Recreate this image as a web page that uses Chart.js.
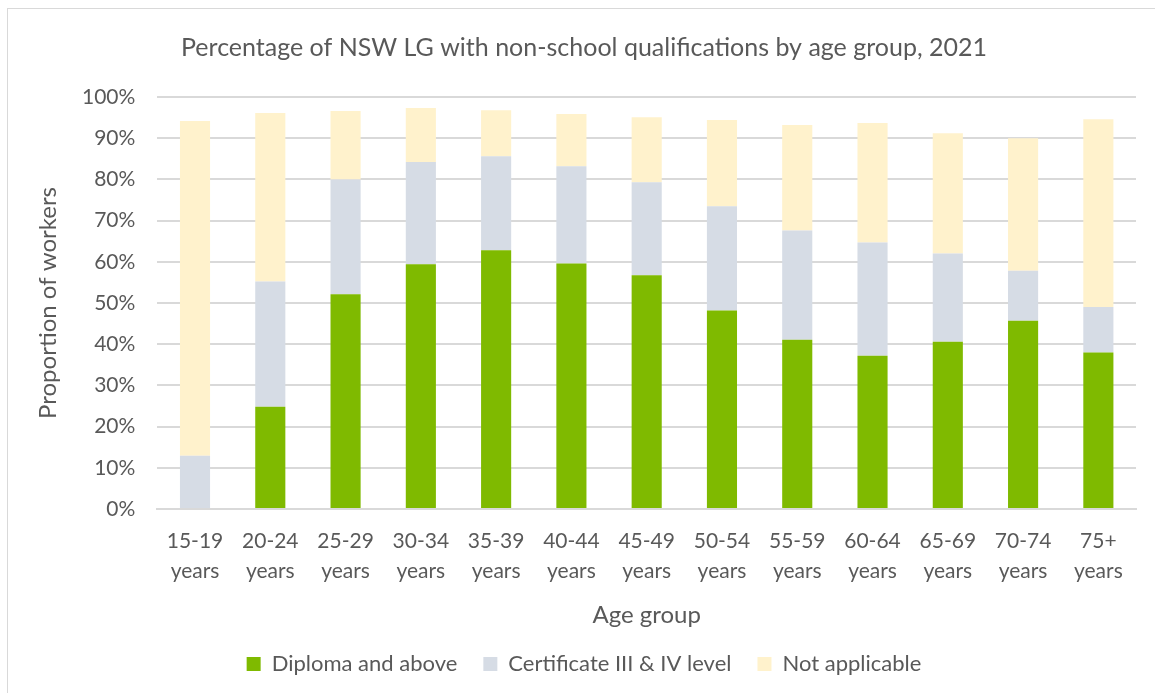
<!DOCTYPE html>
<html>
<head>
<meta charset="utf-8">
<script src="https://cdn.jsdelivr.net/npm/chart.js@4/dist/chart.umd.min.js"></script>
<style>
  html, body { margin: 0; padding: 0; background: #fff; }
  #frame { position: absolute; left: 7px; top: 8px; width: 1160px; height: 700px;
           border-left: 1px solid #d9d9d9; border-top: 1px solid #d9d9d9; }
  #wrap { position: absolute; left: 0; top: 0; width: 1155px; height: 693px; }
</style>
</head>
<body>
<div id="frame"></div>
<div id="wrap"><canvas id="chart" width="1155" height="693"></canvas></div>
<script>
  // Age groups (two-line tick labels)
  const ageGroups = ['15-19','20-24','25-29','30-34','35-39','40-44','45-49','50-54','55-59','60-64','65-69','70-74','75+'];
  // Segment heights, % of workers
  const diploma = [0, 24.8, 52.1, 59.4, 62.8, 59.6, 56.7, 48.2, 41.1, 37.2, 40.6, 45.7, 38.0];
  const certificate = [12.9, 30.4, 27.9, 24.8, 22.8, 23.6, 22.6, 25.3, 26.5, 27.5, 21.4, 12.1, 11.0];
  const notApplicable = [81.3, 40.9, 16.6, 13.1, 11.2, 12.7, 15.8, 20.9, 25.6, 29.0, 29.2, 32.2, 45.6];
  const yTicks = [0, 10, 20, 30, 40, 50, 60, 70, 80, 90, 100];

  const FONT = 'Lato, "Open Sans", sans-serif';
  const TEXT = '#595959';

  new Chart(document.getElementById('chart').getContext('2d'), {
    type: 'bar',
    data: {
      labels: ageGroups.map(a => [a, 'years']),
      datasets: [
        { label: 'Diploma and above', data: diploma, backgroundColor: '#7fba00' },
        { label: 'Certificate III & IV level', data: certificate, backgroundColor: '#d6dce5' },
        { label: 'Not applicable', data: notApplicable, backgroundColor: '#fff2cc' }
      ]
    },
    options: {
      responsive: false,
      animation: false,
      layout: { padding: { left: 32, right: 19, top: 0, bottom: 8 } },
      datasets: { bar: { categoryPercentage: 0.4, barPercentage: 1 } },
      plugins: {
        title: {
          display: true,
          text: 'Percentage of NSW LG with non-school qualifications by age group, 2021',
          color: TEXT,
          font: { family: FONT, size: 25, weight: 'normal' },
          padding: { top: 33, bottom: 34 }
        },
        legend: {
          position: 'bottom',
          labels: {
            color: TEXT,
            font: { family: FONT, size: 22 },
            boxWidth: 14, boxHeight: 14,
            padding: 26
          }
        },
        tooltip: { enabled: false }
      },
      scales: {
        x: {
          stacked: true,
          grid: { display: false },
          border: { color: '#d9d9d9', width: 2 },
          ticks: { color: TEXT, font: { family: FONT, size: 21, lineHeight: 1.43 }, maxRotation: 0, autoSkip: false, padding: 9 },
          title: { display: true, text: 'Age group', color: TEXT, font: { family: FONT, size: 24, lineHeight: 1 }, padding: { top: 8, bottom: 0 } }
        },
        y: {
          stacked: true,
          min: 0, max: 100,
          afterBuildTicks: axis => { axis.ticks = yTicks.map(v => ({ value: v })); },
          grid: { color: '#d9d9d9', lineWidth: 2, drawTicks: false },
          border: { display: false },
          ticks: { color: TEXT, font: { family: FONT, size: 21 }, padding: 22, callback: v => v + '%' },
          title: { display: true, text: 'Proportion of workers', color: TEXT, font: { family: FONT, size: 24, lineHeight: 1 }, padding: { top: 4, bottom: 0 } }
        }
      }
    }
  });
</script>
</body>
</html>
